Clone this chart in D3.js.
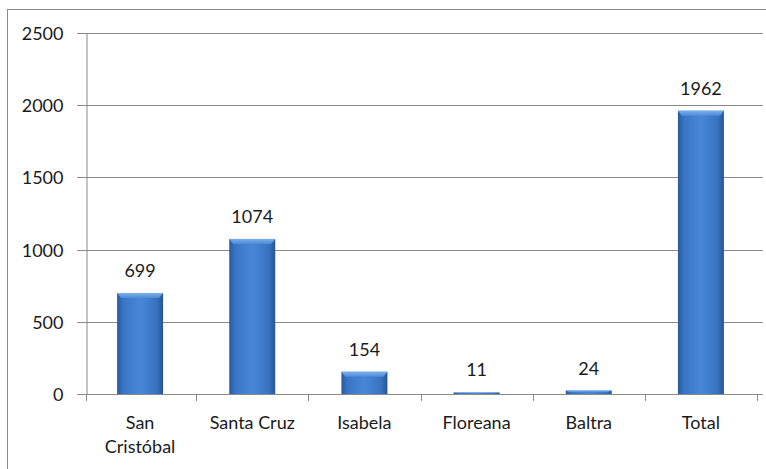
<!DOCTYPE html>
<html>
<head>
<meta charset="utf-8">
<script src="https://cdn.jsdelivr.net/npm/d3@7"></script>
<style>
  html, body { margin: 0; padding: 0; background: #fff; }
  svg { display: block; }
  text { font-family: Lato, "Open Sans", sans-serif; fill: #1a1a1a; }
</style>
</head>
<body>
<svg id="chart" width="766" height="469"></svg>
<script>
// Visitors per island
const categories = [["San", "Cristóbal"], ["Santa Cruz"], ["Isabela"], ["Floreana"], ["Baltra"], ["Total"]];
const values = [699, 1074, 154, 11, 24, 1962];
const yTicks = [0, 500, 1000, 1500, 2000, 2500];

const svg = d3.select("#chart");
const W = 766, H = 469;
const plot = { left: 84, right: 757, top: 33, bottom: 394, axisX: 86 };

// Outer frame (only top and left edges fall inside the canvas)
svg.append("rect")
  .attr("x", 7.5).attr("y", 9.5)
  .attr("width", W + 10).attr("height", H + 10)
  .attr("fill", "#fff").attr("stroke", "#8c8c8c");

// Bar gradient: dark edges, lighter middle
const defs = svg.append("defs");
const grad = defs.append("linearGradient").attr("id", "barGrad")
  .attr("x1", "0%").attr("x2", "100%").attr("y1", "0%").attr("y2", "0%");
[["0%", "#295a9e"], ["14%", "#3a76c6"], ["50%", "#4887d8"], ["86%", "#3873c2"], ["100%", "#275497"]]
  .forEach(([o, c]) => grad.append("stop").attr("offset", o).attr("stop-color", c));
const capGrad = defs.append("linearGradient").attr("id", "capGrad")
  .attr("x1", "0%").attr("x2", "0%").attr("y1", "0%").attr("y2", "100%");
[["0%", "#7ab0ee"], ["100%", "#4f8ad8"]]
  .forEach(([o, c]) => capGrad.append("stop").attr("offset", o).attr("stop-color", c));

const x = d3.scaleBand()
  .domain(categories.map((c, i) => i))
  .range([plot.left, plot.right])
  .paddingInner(0.59).paddingOuter(0.295);

const y = d3.scaleLinear().domain([0, 2500]).range([plot.bottom, plot.top]);

// Gridlines
svg.append("g").selectAll("line").data(yTicks).join("line")
  .attr("x1", plot.axisX - 9).attr("x2", plot.right + 6)
  .attr("y1", d => Math.round(y(d)) + 0.5).attr("y2", d => Math.round(y(d)) + 0.5)
  .attr("stroke", "#8a8a8a").attr("stroke-width", 1);

// Y axis
const yAxis = svg.append("g")
  .attr("transform", `translate(${plot.axisX + 0.5},0)`)
  .call(d3.axisLeft(y).tickValues(yTicks).tickSize(0).tickPadding(23).tickFormat(d3.format("d")));
yAxis.select(".domain").attr("stroke", "#8a8a8a");
yAxis.selectAll("text").style("font-size", "18px").attr("dy", "0.36em");

// X axis ticks at band boundaries
const bounds = d3.range(1, categories.length + 1)
  .map(i => plot.left + i * (plot.right - plot.left) / categories.length);
svg.append("g").selectAll("line").data(bounds).join("line")
  .attr("x1", d => Math.round(d) + 0.5).attr("x2", d => Math.round(d) + 0.5)
  .attr("y1", plot.bottom).attr("y2", plot.bottom + 7)
  .attr("stroke", "#8a8a8a");
svg.append("line")
  .attr("x1", plot.axisX + 0.5).attr("x2", plot.axisX + 0.5)
  .attr("y1", plot.bottom).attr("y2", plot.bottom + 7)
  .attr("stroke", "#8a8a8a");

// Bars
const bars = svg.append("g").selectAll("g").data(values).join("g");
bars.append("rect")
  .attr("x", (d, i) => x(i)).attr("width", x.bandwidth())
  .attr("y", d => y(d)).attr("height", d => Math.max(1.5, y(0) - y(d)))
  .attr("fill", "url(#barGrad)");
// Bevelled top cap
bars.append("path")
  .attr("d", (d, i) => {
    const bx = x(i), bw = x.bandwidth(), by = y(d);
    const h = Math.min(5, (y(0) - y(d)) / 2);
    return `M${bx},${by} L${bx + bw},${by} L${bx + bw - 4},${by + h} L${bx + 4},${by + h} Z`;
  })
  .attr("fill", "url(#capGrad)");

// Value labels
svg.append("g").selectAll("text").data(values).join("text")
  .attr("x", (d, i) => x(i) + x.bandwidth() / 2)
  .attr("y", d => y(d) - 16)
  .attr("text-anchor", "middle")
  .style("font-size", "18px")
  .text(d => d);

// Category labels
const cat = svg.append("g").selectAll("text").data(categories).join("text")
  .attr("x", (d, i) => x(i) + x.bandwidth() / 2)
  .attr("y", 429)
  .attr("text-anchor", "middle")
  .style("font-size", "18px");
cat.selectAll("tspan").data(d => d).join("tspan")
  .attr("x", function () { return d3.select(this.parentNode).attr("x"); })
  .attr("dy", (d, j) => j === 0 ? 0 : 24)
  .text(d => d);
</script>
</body>
</html>
